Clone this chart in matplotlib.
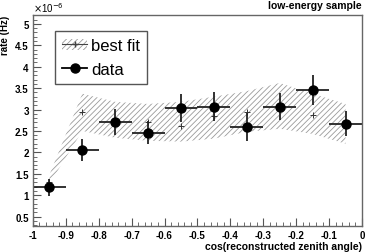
import matplotlib
matplotlib.use("Agg")
import matplotlib.pyplot as plt
from matplotlib.patches import Patch
from matplotlib.lines import Line2D
from matplotlib.ticker import MultipleLocator

plt.rcParams['font.family'] = ['Liberation Sans', 'DejaVu Sans']
plt.rcParams['hatch.linewidth'] = 0.6

# bin centres of cos(zenith)
bins = [-0.95, -0.85, -0.75, -0.65, -0.55, -0.45, -0.35, -0.25, -0.15, -0.05]
data = [1.18, 2.05, 2.71, 2.46, 3.03, 3.07, 2.59, 3.07, 3.46, 2.67]
data_err = [0.19, 0.25, 0.30, 0.27, 0.33, 0.33, 0.33, 0.32, 0.35, 0.30]
fit = [1.30, 2.94, 2.72, 2.71, 2.61, 2.85, 2.94, 3.05, 2.88, 2.66]
fit_hi = [1.47, 3.37, 3.18, 3.13, 3.18, 3.30, 3.43, 3.62, 3.37, 3.13]
fit_lo = [1.26, 2.50, 2.34, 2.27, 2.25, 2.32, 2.48, 2.55, 2.43, 2.20]

fig = plt.figure(figsize=(3.74, 2.53), dpi=100)
ax = fig.add_axes([0.088, 0.103, 0.88, 0.834])

ax.fill_between(bins, fit_lo, fit_hi, facecolor='none', edgecolor='#9a9a9a',
                hatch='//////', linewidth=0)
ax.plot(bins, fit, ls='none', marker='+', ms=4, mew=0.7, color='#333333')
ax.errorbar(bins, data, yerr=data_err, xerr=0.05, fmt='o', color='black',
            ecolor='#222222', elinewidth=1.3, ms=6.5, capsize=0)

ax.set_xlim(-1, 0)
ax.set_ylim(0.28, 5.21)
ax.xaxis.set_major_locator(MultipleLocator(0.1))
ax.xaxis.set_minor_locator(MultipleLocator(0.02))
ax.yaxis.set_major_locator(MultipleLocator(0.5))
ax.yaxis.set_minor_locator(MultipleLocator(0.1))
ax.tick_params(which='both', direction='in', top=False, right=False,
               labelsize=7, pad=3, color='#555555')
ax.tick_params(which='major', length=6)
ax.tick_params(which='minor', length=3)
for lab in ax.get_xticklabels() + ax.get_yticklabels():
    lab.set_fontweight('bold')
ax.set_xticks([-1, -0.9, -0.8, -0.7, -0.6, -0.5, -0.4, -0.3, -0.2, -0.1, 0])
ax.set_xticklabels(['-1', '-0.9', '-0.8', '-0.7', '-0.6', '-0.5', '-0.4',
                    '-0.3', '-0.2', '-0.1', '0'], fontweight='bold')
ax.set_yticks([0.5, 1, 1.5, 2, 2.5, 3, 3.5, 4, 4.5, 5])
ax.set_yticklabels(['0.5', '1', '1.5', '2', '2.5', '3', '3.5', '4', '4.5', '5'],
                   fontweight='bold')
for s in ax.spines.values():
    s.set_color('#666666')
    s.set_linewidth(1)

ax.set_xlabel('cos(reconstructed zenith angle)', fontsize=7.5, fontweight='bold',
              loc='right', labelpad=1)
ax.set_ylabel('rate (Hz)', fontsize=7, fontweight='bold', loc='top', labelpad=4)
ax.text(0.0, 1.005, r'$\times$10$^{-6}$', transform=ax.transAxes, fontsize=7,
        ha='left', va='bottom')
fig.text(0.968, 0.995, 'low-energy sample', fontsize=7.5, fontweight='bold',
         ha='right', va='top')

h_fit = (Patch(facecolor='none', edgecolor='#9a9a9a', hatch='//////', linewidth=0),
         Line2D([], [], color='#444444', marker='+', lw=0.8, ms=4))
h_data = Line2D([], [], color='black', marker='o', lw=1.3, ms=6.5)
leg = ax.legend([h_fit, h_data], ['best fit', 'data'], loc='upper left',
                bbox_to_anchor=(0.067, 0.925), fontsize=12, frameon=True,
                fancybox=False, framealpha=1, edgecolor='#555555',
                handlelength=1.5, handletextpad=0.2, borderpad=0.45,
                labelspacing=0.5, borderaxespad=0)
leg.get_frame().set_linewidth(1)

fig.savefig('out.png', dpi=100)
